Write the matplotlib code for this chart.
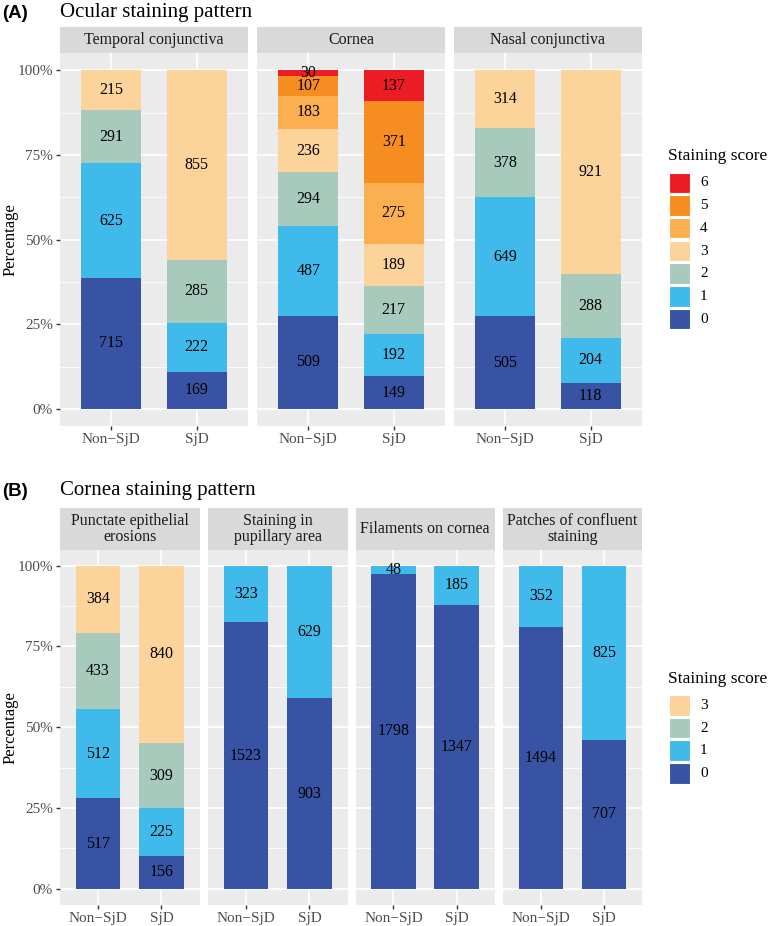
import matplotlib
matplotlib.use("Agg")
import matplotlib.pyplot as plt
from matplotlib.patches import Rectangle
import numpy as np

groups = ["Non\u2212SjD", "SjD"]

# Panel A: counts by score (0..6), per facet, per group
facets_a = ["Temporal conjunctiva", "Cornea", "Nasal conjunctiva"]
temporal_non = [715, 625, 291, 215]
temporal_sjd = [169, 222, 285, 855]
cornea_non = [509, 487, 294, 236, 183, 107, 30]
cornea_sjd = [149, 192, 217, 189, 275, 371, 137]
nasal_non = [505, 649, 378, 314]
nasal_sjd = [118, 204, 288, 921]

# Panel B
facets_b = ["Punctate epithelial\nerosions", "Staining in\npupillary area",
            "Filaments on cornea", "Patches of confluent\nstaining"]
punctate_non = [517, 512, 433, 384]
punctate_sjd = [156, 225, 309, 840]
pupillary_non = [1523, 323]
pupillary_sjd = [903, 629]
filaments_non = [1798, 48]
filaments_sjd = [1347, 185]
patches_non = [1494, 352]
patches_sjd = [707, 825]

scores_a = ["0", "1", "2", "3", "4", "5", "6"]
scores_b = ["0", "1", "2", "3"]
yticks = [0, 0.25, 0.5, 0.75, 1.0]
ytick_labels = ["0%", "25%", "50%", "75%", "100%"]

colors = ["#3953A4", "#40BAEA", "#A8CABC", "#FDD39C", "#FBAF51", "#F68D21", "#EC1C24"]

W, H = 775, 926
fig = plt.figure(figsize=(W / 100, H / 100), dpi=100)
SERIF = ["Liberation Serif", "DejaVu Serif"]
plt.rcParams['font.family'] = SERIF

def px_axes(x0, y0, x1, y1):
    return fig.add_axes([x0 / W, 1 - y1 / H, (x1 - x0) / W, (y1 - y0) / H])

def draw_facet(x0, x1, top, bottom, strip_top, title, data, first):
    # strip
    sax = px_axes(x0, strip_top, x1, top)
    sax.set_facecolor("#D9D9D9")
    sax.set_xticks([]); sax.set_yticks([])
    for s in sax.spines.values():
        s.set_visible(False)
    sax.text(0.5, 0.5, title, ha="center", va="center", fontsize=11.5,
             color="#1A1A1A", transform=sax.transAxes, linespacing=1.0)
    ax = px_axes(x0, top, x1, bottom)
    ax.set_facecolor("#EBEBEB")
    for s in ax.spines.values():
        s.set_visible(False)
    ax.set_xlim(0.4, 2.6)
    ax.set_ylim(-0.05, 1.05)
    for m in [0.125, 0.375, 0.625, 0.875]:
        ax.axhline(m, color="white", lw=0.6, zorder=0)
    for t in yticks:
        ax.axhline(t, color="white", lw=1.2, zorder=0)
    for xpos in [1, 2]:
        ax.axvline(xpos, color="white", lw=1.2, zorder=0)
    xs = [1, 2]
    for xi, counts in zip(xs, data):
        total = float(sum(counts))
        base = 0.0
        for k, c in enumerate(counts):
            h = c / total
            ax.bar(xi, h, bottom=base, width=0.7, color=colors[k], zorder=2,
                   linewidth=0)
            ax.text(xi, base + h / 2, str(c), ha="center", va="center",
                    fontsize=11.5, color="black", zorder=3)
            base += h
    ax.set_xticks(xs)
    ax.set_xticklabels(groups, fontsize=11, color="#4D4D4D")
    ax.tick_params(axis="both", length=3, width=1, color="#333333", pad=2)
    ax.set_yticks(yticks)
    if first:
        ax.set_yticklabels(ytick_labels, fontsize=11, color="#4D4D4D")
        ymid = (top + bottom) / 2
        fig.text(11 / W, 1 - ymid / H, "Percentage", rotation=90, fontsize=12,
                 ha="center", va="center", color="black")
    else:
        ax.tick_params(axis="y", length=0)
        ax.set_yticklabels([])
    ax.set_axisbelow(True)
    return ax

def legend(x, title_y, key_top, labels):
    lax = px_axes(0, 0, W, H)
    lax.set_xlim(0, W); lax.set_ylim(H, 0)
    lax.axis("off")
    lax.patch.set_alpha(0)
    lax.text(x, title_y, "Staining score", fontsize=12.5, va="center", ha="left")
    step = 22.7
    for i, lab in enumerate(reversed(labels)):
        k = int(lab)
        y = key_top + i * step
        lax.add_patch(Rectangle((x + 1, y), 20.5, 20.5, facecolor=colors[k],
                                edgecolor="white", lw=0.8))
        lax.text(x + 32, y + 10.5, lab, fontsize=11, va="center", ha="left")

# Panel A
a_data = [(temporal_non, temporal_sjd), (cornea_non, cornea_sjd), (nasal_non, nasal_sjd)]
a_x = [(60, 248), (257, 445), (454, 642)]
for i, ((x0, x1), title, d) in enumerate(zip(a_x, facets_a, a_data)):
    draw_facet(x0, x1, 53.5, 426, 27, title, d, i == 0)

# Panel B
b_data = [(punctate_non, punctate_sjd), (pupillary_non, pupillary_sjd),
          (filaments_non, filaments_sjd), (patches_non, patches_sjd)]
b_x = [(60, 199.5), (208, 347.5), (355.5, 494.5), (503, 642)]
for i, ((x0, x1), title, d) in enumerate(zip(b_x, facets_b, b_data)):
    draw_facet(x0, x1, 549.5, 905, 508, title, d, i == 0)

legend(668, 156, 172.5, scores_a)
legend(668, 679, 695, scores_b)

fig.text(2 / W, 1 - 13 / H, "(A)", fontsize=13.5, fontweight="bold",
         family=["Liberation Sans", "DejaVu Sans"], va="center", ha="left")
fig.text(60 / W, 1 - 12 / H, "Ocular staining pattern", fontsize=15,
         va="center", ha="left")
fig.text(2 / W, 1 - 492 / H, "(B)", fontsize=13.5, fontweight="bold",
         family=["Liberation Sans", "DejaVu Sans"], va="center", ha="left")
fig.text(60 / W, 1 - 491 / H, "Cornea staining pattern", fontsize=15,
         va="center", ha="left")

fig.savefig("out.png", dpi=100)
